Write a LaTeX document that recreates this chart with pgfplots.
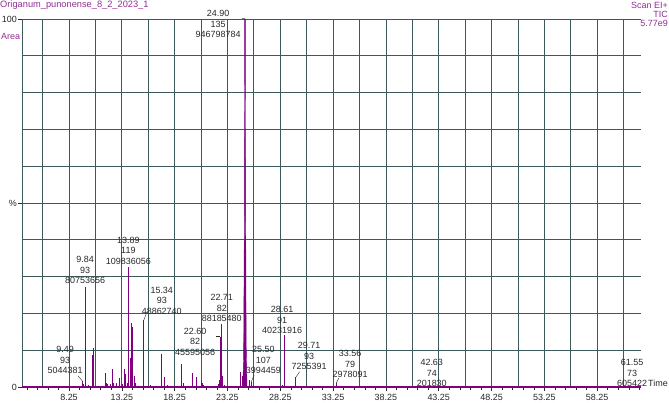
\documentclass[border=0pt]{standalone}
\usepackage{pgfplots}
\pgfplotsset{compat=1.18}
\usepackage{fontspec}
\setmainfont{Liberation Sans}
\definecolor{pk}{RGB}{128,0,128}
\definecolor{ttl}{RGB}{145,45,145}
\definecolor{gridc}{RGB}{60,90,90}
\definecolor{txt}{RGB}{40,40,40}
\begin{document}
\begin{tikzpicture}[x=1bp,y=1bp]
\useasboundingbox (0,0) rectangle (669,402);
\begin{axis}[
  at={(22bp,15bp)}, anchor=south west,
  scale only axis, width=619bp, height=368bp,
  xmin=3.8, xmax=62.4, ymin=0, ymax=100,
  clip=false,
  axis lines=left,
  axis line style={-, gridc, line width=0.9pt},
  xtick={8.25,13.25,18.25,23.25,28.25,33.25,38.25,43.25,48.25,53.25,58.25},
  xticklabels={8.25,13.25,18.25,23.25,28.25,33.25,38.25,43.25,48.25,53.25,58.25},
  minor xtick={4.25,5.25,6.25,7.25,9.25,10.25,11.25,12.25,14.25,15.25,16.25,17.25,19.25,20.25,21.25,22.25,24.25,25.25,26.25,27.25,29.25,30.25,31.25,32.25,34.25,35.25,36.25,37.25,39.25,40.25,41.25,42.25,44.25,45.25,46.25,47.25,49.25,50.25,51.25,52.25,54.25,55.25,56.25,57.25,59.25,60.25,61.25,62.25},
  extra x ticks={5.75,10.75,15.75,20.75,25.75,30.75,35.75,40.75,45.75,50.75,55.75,60.75},
  extra x tick labels={},
  extra x tick style={grid=major, tick style={draw=none}},
  xmajorgrids,
  ytick={0,50,100}, yticklabels={0,\%,100},
  extra y ticks={10,20,30,40,60,70,80,90},
  extra y tick labels={},
  extra y tick style={grid=major, tick style={draw=none}},
  ymajorgrids,
  grid style={gridc, line width=0.8pt},
  tick align=outside, major tick length=4bp, minor tick length=2.5bp,
  tick style={txt, line width=0.5pt},
  ticklabel style={font=\fontsize{9}{10.5}\selectfont, text=txt},
  /pgf/number format/assume math mode=true,
  yticklabel style={inner sep=1pt},
]
% baseline
\addplot[pk, line width=1.3pt, no marks] coordinates {(3.8,0) (62.4,0)};
% peaks
\addplot[pk, ycomb, line width=0.9pt, no marks] coordinates {
(9.52,1.7) (9.62,0.8) (9.84,27.3) (10.05,0.5) (10.46,8.7) (10.56,10.5)
(11.73,3.9) (11.80,1.2) (11.92,0.8) (12.14,0.8) (12.36,4.9) (12.50,1.0)
(12.71,1.0) (13.02,2.4) (13.30,0.7) (13.49,5.0) (13.56,3.5) (13.75,1.0)
(13.89,32.7) (14.03,7.8) (14.19,17.5) (14.29,16.4) (14.40,3.0) (14.55,1.0)
(15.34,18.2) (16.00,0.6) (17.00,9.0) (17.25,2.7) (17.60,0.5) (18.90,6.2)
(19.05,1.0) (19.90,3.7) (20.27,2.8) (20.80,1.9) (20.90,1.0) (21.00,0.5)
(21.80,0.4) (22.40,0.8) (22.50,2.0) (22.60,13.7) (22.71,17.0) (22.80,3.0)
(23.00,0.5) (24.52,4.2) (24.68,2.9) (25.30,1.9) (25.50,1.4) (26.20,0.3)
(27.40,0.4) (28.50,0.6) (28.61,14.1) (29.00,0.4) (29.71,2.6) (30.50,0.3)
(33.56,1.0) (34.00,0.3) (42.63,0.2) (61.55,0.3)
};
% main peak
\addplot[pk, fill=pk, line width=0.4pt, no marks] coordinates {
(24.70,0) (24.78,8) (24.84,40) (24.88,100) (24.94,100) (24.97,50) (25.02,12) (25.10,0)
} \closedcycle;
% labels
\tikzset{lbl/.style={font=\fontsize{9}{10.5}\selectfont, align=center, inner sep=0pt, text=txt}}
\node[lbl] at (axis cs:22.36,98.6) {24.90\\135\\946798784};
\node[lbl] at (axis cs:9.77,31.8) {9.84\\93\\80753656};
\node[lbl] at (axis cs:13.87,37.0) {13.89\\119\\109836056};
\node[lbl] at (axis cs:17.03,23.4) {15.34\\93\\48862740};
\node[lbl] at (axis cs:22.71,21.4) {22.71\\82\\88185480};
\node[lbl] at (axis cs:20.19,12.3) {22.60\\82\\45595056};
\node[lbl] at (axis cs:7.88,7.3) {9.49\\93\\5044381};
\node[lbl] at (axis cs:26.65,7.3) {25.50\\107\\3994459};
\node[lbl] at (axis cs:28.42,18.2) {28.61\\91\\40231916};
\node[lbl] at (axis cs:30.98,8.4) {29.71\\93\\7255391};
\node[lbl] at (axis cs:34.86,6.2) {33.56\\79\\2978091};
\node[lbl] at (axis cs:42.59,3.8) {42.63\\74\\201830};
\node[lbl] at (axis cs:61.55,3.8) {61.55\\73\\605422};
% leader lines
\draw[txt, line width=0.4pt] (axis cs:9.52,1.63) -- (axis cs:9.11,2.99);
\draw[txt, line width=0.4pt] (axis cs:15.34,18.2) -- (axis cs:15.62,20.4);
\draw[txt, line width=0.4pt] (axis cs:22.20,13.67) -- (axis cs:22.55,13.67);
\draw[txt, line width=0.4pt] (axis cs:25.50,1.4) -- (axis cs:25.78,3.26);
\draw[txt, line width=0.4pt] (axis cs:29.71,2.6) -- (axis cs:30.09,4.16);
\draw[txt, line width=0.4pt] (axis cs:33.56,1.1) -- (axis cs:33.78,2.4);
\draw[txt!60, line width=0.5pt] (axis cs:24.62,100.2) -- (axis cs:24.90,100.2);
\end{axis}
\node[anchor=base west, inner sep=0pt, text=ttl, font=\fontsize{9.3}{11}\selectfont] at (0,394.6) {Origanum\_punonense\_8\_2\_2023\_1};
\node[anchor=base east, inner sep=0pt, text=ttl, font=\fontsize{9}{11}\selectfont] at (668,393.7) {Scan EI+};
\node[anchor=base east, inner sep=0pt, text=ttl, font=\fontsize{9}{11}\selectfont] at (668,384.7) {TIC};
\node[anchor=base east, inner sep=0pt, text=ttl, font=\fontsize{9}{11}\selectfont] at (668,376) {5.77e9};
\node[anchor=base west, inner sep=0pt, text=ttl, font=\fontsize{9}{11}\selectfont] at (1,363) {Area};
\node[anchor=base west, inner sep=0pt, text=txt, font=\fontsize{9}{11}\selectfont] at (648,16) {Time};
\end{tikzpicture}
\end{document}
